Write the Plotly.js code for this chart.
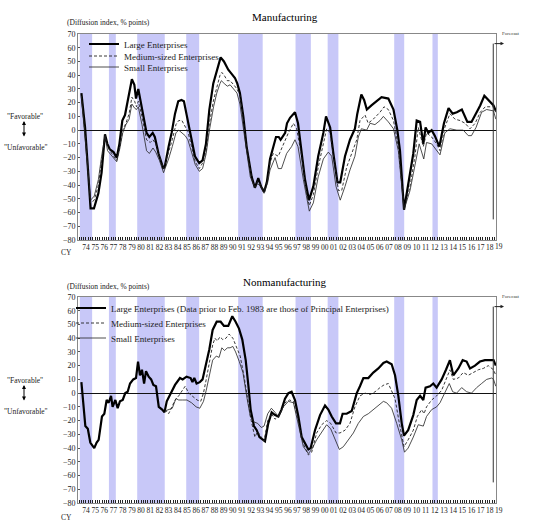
<!DOCTYPE html>
<html><head><meta charset="utf-8">
<script src="https://cdn.plot.ly/plotly-3.0.1.min.js"></script>
<style>html,body{margin:0;padding:0;background:#fff}#chart{width:540px;height:524px}</style>
</head><body><div id="chart"></div>
<script>
// ---------- DATA ----------
const years = [1974,1975,1976,1977,1978,1979,1980,1981,1982,1983,1984,1985,1986,1987,1988,1989,1990,1991,1992,1993,1994,1995,1996,1997,1998,1999,2000,2001,2002,2003,2004,2005,2006,2007,2008,2009,2010,2011,2012,2013,2014,2015,2016,2017,2018,2019];
const yearLabels = ['74','75','76','77','78','79','80','81','82','83','84','85','86','87','88','89','90','91','92','93','94','95','96','97','98','99','00','01','02','03','04','05','06','07','08','09','10','11','12','13','14','15','16','17','18','19'];
const recessionStart = [1973.83,1977.0,1980.08,1985.42,1991.08,1997.33,2000.83,2008.08,2012.25];
const recessionEnd   = [1975.17,1977.75,1983.08,1986.83,1993.75,1999.0,2002.0,2009.17,2012.83];
const forecastAt = 2018.87;
const seriesNames = ['Large Enterprises','Medium-sized Enterprises','Small Enterprises'];
const seriesNamesNonmfg = ['Large Enterprises (Data prior to Feb. 1983 are those of Principal Enterprises)','Medium-sized Enterprises','Small Enterprises'];

// Manufacturing
const mfgLargeX = [1974.0,1974.4,1974.65,1975.0,1975.37,1975.85,1976.2,1976.57,1976.83,1977.1,1977.5,1977.85,1978.14,1978.46,1978.75,1979.1,1979.5,1979.77,1979.95,1980.2,1980.57,1981.1,1981.4,1981.77,1982.0,1982.4,1982.93,1983.1,1983.5,1983.83,1984.2,1984.55,1984.9,1985.17,1985.5,1986.0,1986.37,1986.84,1987.2,1987.57,1987.94,1988.37,1988.74,1989.17,1989.53,1990.0,1990.37,1990.73,1990.98,1991.27,1991.64,1992.0,1992.55,1992.9,1993.27,1993.57,1993.9,1994.2,1994.55,1994.9,1995.2,1995.5,1995.7,1996.2,1996.4,1996.73,1997.27,1997.6,1998.0,1998.36,1998.8,1999.27,1999.8,2000.36,2000.65,2001.1,2001.45,2001.9,2002.2,2002.72,2003.26,2003.8,2004.06,2004.5,2004.8,2005.1,2005.6,2006.35,2006.7,2007.44,2008.0,2008.42,2008.71,2009.15,2009.6,2010.16,2010.53,2010.9,2011.25,2011.5,2011.8,2012.16,2012.5,2013.0,2013.5,2014.0,2014.45,2014.9,2015.45,2016.05,2016.5,2017.0,2017.45,2017.9,2018.33,2018.65,2018.9,2019.15];
const mfgLargeY = [27,2,-22,-57,-57,-46,-31,-3,-10,-14,-16,-20,-10,7,11,22,37,33,23,30,17,-2,-5,-2,-5,-17,-28,-26,-12,-2,12,21,22,21,10,-7,-19,-24,-22,-10,15,34,43,53,50,44,41,38,34,27,10,-12,-34,-42,-35,-41,-45,-38,-21,-12,-5,-5,-7,-2,5,9,13,5,-15,-36,-51,-41,-19,-2,10,2,-17,-38,-38,-19,-7,1,12,26,22,15,18,22,24,23,15,0,-15,-58,-41,-17,7,6,-10,2,-2,0,-4,-12,5,16,12,13,15,6,6,12,18,25,22,20,18,14];
const mfgMediumX = [1974.0,1974.5,1975.0,1975.4,1975.85,1976.2,1976.57,1976.85,1977.3,1977.85,1978.2,1978.5,1978.85,1979.2,1979.5,1979.8,1980.0,1980.2,1980.6,1981.1,1981.5,1981.8,1982.1,1982.5,1982.95,1983.5,1983.9,1984.3,1984.6,1984.95,1985.3,1985.6,1986.0,1986.4,1986.84,1987.2,1987.6,1987.95,1988.4,1988.75,1989.1,1989.3,1989.55,1989.9,1990.2,1990.6,1990.95,1991.3,1991.65,1992.0,1992.55,1992.9,1993.2,1993.55,1993.9,1994.3,1994.55,1994.9,1995.45,1996.0,1996.55,1997.1,1997.45,1998.0,1998.55,1998.83,1999.27,1999.8,2000.36,2000.72,2001.1,2001.63,2002.0,2002.36,2002.9,2003.45,2004.0,2004.35,2004.9,2005.25,2005.8,2006.53,2006.97,2007.44,2008.0,2008.53,2009.15,2009.8,2010.34,2010.7,2011.25,2011.6,2012.16,2012.7,2013.07,2013.6,2014.15,2014.7,2015.25,2015.8,2016.34,2016.9,2017.45,2018.0,2018.5,2018.9,2019.15];
const mfgMediumY = [25,-10,-53,-51,-40,-24,-4,-12,-17,-22,-12,0,5,12,24,21,17,21,10,-7,-9,-7,-10,-19,-28,-16,-7,4,7,7,2,-1,-12,-23,-28,-24,-15,5,22,31,40,42,40,36,36,33,30,25,7,-12,-35,-42,-37,-40,-44,-36,-24,-17,-19,-10,-2,5,1,-19,-47,-55,-47,-27,-10,1,-2,-27,-44,-44,-27,-17,-7,7,11,5,8,13,17,15,7,-12,-57,-41,-19,2,-12,-2,-5,-10,-15,2,12,8,7,5,1,5,13,17,17,17,13];
const mfgSmallX = [1974.0,1974.5,1975.0,1975.4,1975.85,1976.2,1976.57,1976.85,1977.3,1977.85,1978.2,1978.5,1978.85,1979.2,1979.5,1979.8,1980.0,1980.2,1980.6,1981.1,1981.4,1981.8,1982.1,1982.5,1982.95,1983.5,1983.9,1984.3,1984.6,1984.95,1985.3,1985.6,1986.0,1986.4,1986.84,1987.2,1987.6,1987.95,1988.4,1988.75,1989.1,1989.25,1989.55,1989.9,1990.2,1990.6,1990.95,1991.27,1991.65,1992.0,1992.4,1992.9,1993.2,1993.55,1993.9,1994.3,1994.55,1995.1,1995.45,1995.8,1996.36,1996.9,1997.27,1997.6,1998.18,1998.83,1999.27,1999.8,2000.36,2000.9,2001.27,2001.74,2002.2,2002.72,2003.26,2003.8,2004.17,2004.5,2005.08,2005.45,2005.98,2006.53,2006.9,2007.44,2008.0,2008.53,2009.15,2009.8,2010.34,2010.8,2011.3,2011.6,2012.16,2012.7,2013.07,2013.6,2014.15,2014.9,2015.6,2016.15,2016.5,2017.0,2017.6,2018.15,2018.7,2018.9,2019.15];
const mfgSmallY = [24,-12,-51,-48,-36,-19,-4,-15,-19,-23,-13,-2,4,8,19,16,15,17,4,-15,-17,-13,-16,-22,-31,-21,-12,-2,0,-2,-4,-7,-17,-25,-30,-28,-17,0,17,27,34,36,34,32,33,30,27,19,2,-15,-34,-42,-39,-41,-46,-38,-29,-20,-28,-28,-17,-12,-7,-12,-36,-59,-53,-34,-21,-16,-19,-41,-51,-41,-29,-19,-5,1,0,5,4,7,10,6,1,-15,-58,-44,-27,-10,-21,-9,-10,-15,-18,-2,1,0,0,-4,-4,2,13,15,14,14,8];

// Nonmanufacturing
const nonLargeX = [1974.0,1974.43,1974.7,1974.97,1975.4,1975.66,1975.88,1976.24,1976.5,1976.75,1976.97,1977.23,1977.4,1977.7,1977.95,1978.2,1978.5,1978.78,1979.04,1979.3,1979.65,1979.95,1980.17,1980.38,1980.6,1980.83,1981.04,1981.33,1981.6,1981.84,1982.13,1982.43,1982.8,1983.05,1983.3,1983.7,1984.2,1984.74,1985.03,1985.46,1985.9,1986.1,1986.3,1986.55,1986.9,1987.2,1987.57,1987.94,1988.3,1988.74,1989.17,1989.53,1990.0,1990.44,1990.8,1991.17,1991.53,1991.9,1992.2,1992.44,1992.8,1993.1,1993.4,1993.75,1994.0,1994.36,1994.73,1995.1,1995.46,1995.8,1996.18,1996.55,1996.9,1997.27,1997.64,1998.0,1998.36,1998.73,1998.98,1999.45,2000.0,2000.54,2000.9,2001.27,2001.74,2002.17,2002.46,2002.9,2003.45,2004.0,2004.35,2004.72,2005.26,2005.8,2006.35,2006.9,2007.26,2007.8,2008.17,2008.53,2008.9,2009.15,2009.6,2010.16,2010.53,2010.9,2011.25,2011.5,2011.98,2012.34,2012.7,2013.25,2013.72,2014.15,2014.52,2015.07,2015.54,2015.97,2016.34,2016.88,2017.42,2017.97,2018.5,2018.9,2019.15];
const nonLargeY = [8,-24,-26,-36,-40,-36,-34,-17,-15,-5,-7,-2,-10,-5,-11,-6,-5,0,1,7,10,11,23,13,17,7,16,12,10,6,5,-10,-12,-14,-6,-1,6,11,10,12,11,8,11,7,8,10,21,32,46,52,52,49,49,56,52,47,39,24,5,-12,-24,-27,-32,-34,-35,-22,-14,-16,-17,-12,-4,0,1,-5,-17,-32,-37,-41,-40,-27,-16,-9,-12,-17,-22,-22,-15,-15,-13,0,5,11,11,15,18,22,23,21,13,-2,-22,-31,-27,-16,-5,-2,-5,4,5,7,4,10,17,24,13,18,24,23,18,20,23,24,24,24,20];
const nonMediumX = [1983.1,1983.5,1983.8,1984.2,1984.6,1985.0,1985.3,1985.7,1986.1,1986.6,1987.0,1987.3,1987.6,1987.95,1988.3,1988.55,1988.8,1989.1,1989.4,1989.75,1990.1,1990.5,1990.9,1991.3,1991.7,1992.1,1992.5,1992.9,1993.2,1993.5,1993.9,1994.3,1994.7,1995.1,1995.6,1996.18,1996.66,1997.1,1997.64,1998.18,1998.73,1999.09,1999.63,2000.18,2000.72,2001.16,2001.74,2002.17,2002.72,2003.26,2003.8,2004.35,2004.9,2005.44,2006.0,2006.53,2006.97,2007.44,2007.8,2008.17,2008.64,2009.15,2009.6,2010.16,2010.6,2011.07,2011.33,2011.6,2012.16,2012.7,2013.25,2013.72,2014.15,2014.52,2015.07,2015.6,2016.15,2016.7,2017.24,2017.79,2018.33,2018.9,2019.15];
const nonMediumY = [-12,-15,-11,-5,-2,2,5,0,-2,-5,-6,0,10,22,35,40,38,41,39,40,43,40,34,27,13,-4,-20,-32,-28,-31,-35,-20,-15,-19,-16,-7,-5,-6,-20,-37,-45,-43,-29,-23,-20,-22,-29,-29,-27,-22,-10,-2,0,-1,1,4,6,7,2,-4,-22,-39,-34,-27,-17,-12,-15,-10,-5,-2,2,10,17,10,11,15,13,15,17,18,20,17,13];
const nonSmallX = [1983.1,1983.5,1983.9,1984.3,1984.6,1985.0,1985.5,1986.0,1986.5,1986.9,1987.3,1987.6,1987.95,1988.3,1988.7,1989.0,1989.3,1989.6,1989.9,1990.2,1990.5,1990.8,1991.2,1991.6,1992.0,1992.4,1992.8,1993.2,1993.6,1993.9,1994.3,1994.7,1995.1,1995.45,1996.0,1996.55,1997.1,1997.64,1998.18,1998.73,1999.09,1999.63,2000.18,2000.72,2001.16,2001.63,2002.1,2002.54,2003.08,2003.63,2004.17,2004.72,2005.26,2005.8,2006.35,2006.9,2007.26,2007.8,2008.35,2008.9,2009.2,2009.6,2010.16,2010.7,2011.25,2011.6,2012.16,2012.7,2013.07,2013.6,2014.08,2014.45,2014.88,2015.43,2015.97,2016.5,2017.06,2017.6,2018.15,2018.7,2018.9,2019.15];
const nonSmallY = [-13,-12,-11,-4,-5,-5,-5,-7,-10,-11,-6,2,13,24,27,26,33,31,33,33,34,30,23,15,-2,-17,-21,-22,-25,-24,-15,-11,-14,-17,-10,-6,-7,-22,-39,-44,-41,-34,-28,-23,-26,-34,-41,-39,-34,-29,-22,-17,-15,-12,-9,-6,-7,-11,-22,-34,-43,-40,-32,-23,-24,-17,-12,-10,-7,0,7,1,0,4,1,0,4,7,10,11,10,5];

// ---------- CHART ----------
const SERIF = 'Liberation Serif, Times New Roman, serif';
const W = 540, H = 524, ML = 78, MR = 44;
const PW = W - ML - MR;
const px = v => (v - ML) / PW;      // pixel x -> paper
const py = v => 1 - v / H;          // pixel y -> paper

const styles = [
  {color:'#000', width:2.2, dash:'solid'},
  {color:'#222', width:0.9, dash:'3px,2px'},
  {color:'#222', width:0.8, dash:'solid'}
];
function tr(x, y, name, i, xa, ya, leg){
  return {x:x, y:y, name:name, type:'scatter', mode:'lines', xaxis:xa, yaxis:ya,
    legend:leg, line:Object.assign({}, styles[i]), hoverinfo:'skip'};
}
const data = [
  tr(mfgLargeX, mfgLargeY, seriesNames[0], 0, 'x', 'y', 'legend'),
  tr(mfgMediumX, mfgMediumY, seriesNames[1], 1, 'x', 'y', 'legend2'),
  tr(mfgSmallX, mfgSmallY, seriesNames[2], 2, 'x', 'y', 'legend3'),
  tr(nonLargeX, nonLargeY, seriesNamesNonmfg[0], 0, 'x2', 'y2', 'legend4'),
  tr(nonMediumX, nonMediumY, seriesNamesNonmfg[1], 1, 'x2', 'y2', 'legend5'),
  tr(nonSmallX, nonSmallY, seriesNamesNonmfg[2], 2, 'x2', 'y2', 'legend6')
];

const tickvals = years.slice(0, -1).map(y => y + 0.5);
const ticktext = yearLabels.slice(0, -1);
function xax(anchor){
  return {domain:[0,1], anchor:anchor, range:[1973.63, 2019.17], tickmode:'array',
    tickvals:tickvals, ticktext:ticktext, ticks:'', tickangle:0, showgrid:false, zeroline:false,
    showline:true, mirror:true, linecolor:'#888', linewidth:1,
    tickfont:{family:SERIF, size:7.5, color:'#222'},
    minor:{tickmode:'linear', tick0:1974, dtick:0.25, ticks:'inside', ticklen:3, tickcolor:'#222', showgrid:false}};
}
function yax(dom, anchor){
  return {domain:dom, anchor:anchor, range:[-80,70], tickmode:'linear', tick0:0, dtick:10,
    ticks:'inside', ticklen:2, tickcolor:'#555', showgrid:false, zeroline:true, zerolinecolor:'#111', zerolinewidth:1,
    showline:true, mirror:true, linecolor:'#888', linewidth:1,
    tickfont:{family:SERIF, size:8, color:'#222'}};
}

const shapes = [];
['x','x2'].forEach((xa, k) => {
  const ya = k === 0 ? 'y' : 'y2';
  recessionStart.forEach((s, i) => {
    shapes.push({type:'rect', xref:xa, yref:ya + ' domain', x0:s, x1:recessionEnd[i], y0:0, y1:1,
      fillcolor:'rgb(200,200,248)', line:{width:0}, layer:'below'});
  });
  shapes.push({type:'line', xref:xa, yref:ya, x0:forecastAt, x1:forecastAt, y0:63, y1:-65,
    line:{color:'#333', width:1}});
});

const annFont = {family:SERIF, size:7.5, color:'#222'};
const ann = [];
function panelAnn(title, titleY, diffY, favY, arrY, unfY, cyY, tickY, ya){
  ann.push({text:title, xref:'paper', yref:'paper', x:px(285), y:py(titleY), showarrow:false,
    font:{family:SERIF, size:11, color:'#000'}, xanchor:'center', yanchor:'middle'});
  ann.push({text:'(Diffusion index, % points)', xref:'paper', yref:'paper', x:px(108), y:py(diffY),
    showarrow:false, font:{family:SERIF, size:7.5, color:'#222'}, xanchor:'center', yanchor:'middle'});
  ann.push({text:'"Favorable"', xref:'paper', yref:'paper', x:px(25), y:py(favY), showarrow:false,
    font:annFont, xanchor:'center', yanchor:'middle'});
  ann.push({text:'"Unfavorable"', xref:'paper', yref:'paper', x:px(26), y:py(unfY), showarrow:false,
    font:annFont, xanchor:'center', yanchor:'middle'});
  ann.push({text:'', xref:'paper', yref:'paper', x:px(24), y:py(arrY), ax:0, ay:17, showarrow:true,
    arrowhead:2, arrowsize:0.8, arrowwidth:1, arrowside:'end+start', arrowcolor:'#000'});
  ann.push({text:'CY', xref:'paper', yref:'paper', x:px(66), y:py(cyY), showarrow:false,
    font:annFont, xanchor:'center', yanchor:'middle'});
  ann.push({text:yearLabels[yearLabels.length-1], xref:'paper', yref:'paper', x:px(499.3), y:py(tickY), showarrow:false,
    font:annFont, xanchor:'center', yanchor:'middle'});
  ann.push({text:'', xref:'paper', yref:ya, x:px(504), y:63, ax:-11, ay:0, showarrow:true,
    arrowhead:2, arrowsize:0.7, arrowwidth:1, arrowcolor:'#222'});
  ann.push({text:'Forecast', xref:'paper', yref:ya, x:px(500), y:67, showarrow:false,
    font:{family:SERIF, size:5, color:'#333'}, xanchor:'left', yanchor:'bottom'});
}
panelAnn('Manufacturing', 17, 22, 116, 121, 147, 252, 246.5, 'y');
panelAnn('Nonmanufacturing', 282, 286, 380, 385, 411, 517, 510.5, 'y2');

function leg(xPix, yPix){
  return {x:px(xPix), y:py(yPix), xanchor:'left', yanchor:'middle', bgcolor:'rgba(0,0,0,0)',
    font:{family:SERIF, size:9, color:'#222'}, itemwidth:30, borderwidth:0};
}

const layout = {
  width:W, height:H, margin:{l:ML, r:MR, t:0, b:0},
  paper_bgcolor:'#fff', plot_bgcolor:'#fff', showlegend:true,
  font:{family:SERIF, color:'#222'},
  xaxis:xax('y'), yaxis:yax([py(240), py(34)], 'x'),
  xaxis2:xax('y2'), yaxis2:yax([py(503), py(297)], 'x2'),
  legend:leg(84, 44), legend2:leg(84, 56), legend3:leg(84, 67),
  legend4:leg(71, 308), legend5:leg(71, 323), legend6:leg(71, 338),
  shapes:shapes, annotations:ann
};
Plotly.newPlot('chart', data, layout, {staticPlot:true, displayModeBar:false});
</script>
</body></html>
